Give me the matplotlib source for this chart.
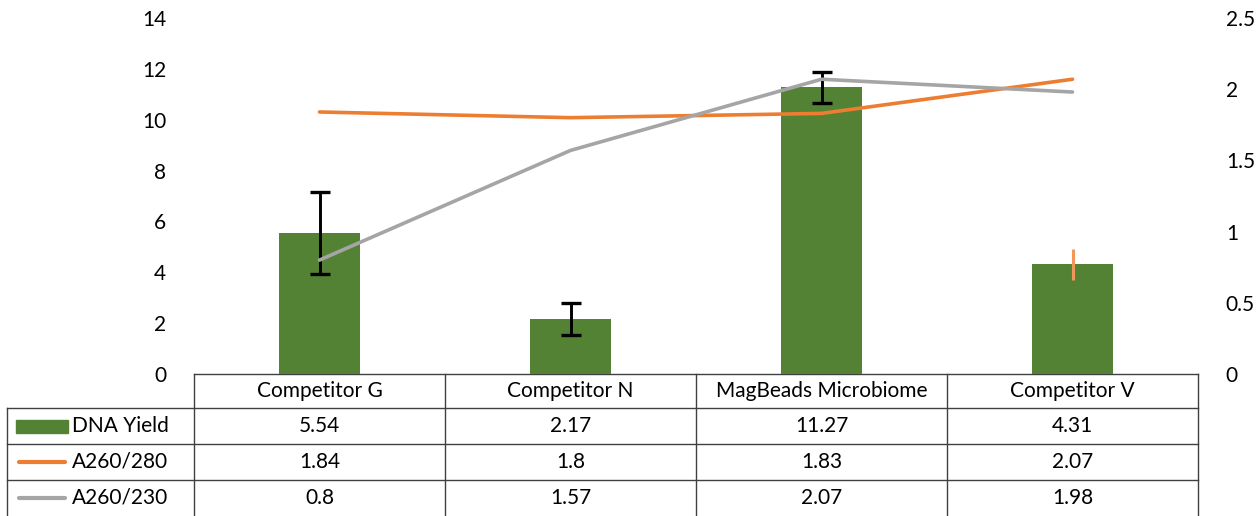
import matplotlib.pyplot as plt
from matplotlib.patches import Rectangle
from matplotlib.lines import Line2D

plt.rcParams["font.family"] = ["Lato", "DejaVu Sans"]

categories = ["Competitor G", "Competitor N", "MagBeads Microbiome", "Competitor V"]
dna_yield = [5.54, 2.17, 11.27, 4.31]
yield_err = [1.6, 0.63, 0.62, 0.62]
a260_280 = [1.84, 1.8, 1.83, 2.07]
a260_230 = [0.8, 1.57, 2.07, 1.98]
series_names = ["DNA Yield", "A260/280", "A260/230"]

GREEN = "#548235"
ORANGE = "#ED7D31"
GRAY = "#A5A5A5"
EDGE = "#404040"
W, H = 1260, 516

fig = plt.figure(figsize=(W / 100, H / 100), dpi=100)

# plot area in pixels: x 194..1198, y 18..374 (from top)
x0, x1, ytop, ybot = 194, 1198, 18, 374
ax = fig.add_axes([x0 / W, 1 - ybot / H, (x1 - x0) / W, (ybot - ytop) / H])
ax2 = ax.twinx()

xs = list(range(len(categories)))
ax.bar(xs, dna_yield, width=0.32, color=GREEN, zorder=2)
# first three error bars black with caps, the last one orange without caps
ax.errorbar(xs[:3], dna_yield[:3], yerr=yield_err[:3], fmt="none", ecolor="black",
            elinewidth=2.1, capsize=7.5, capthick=2.4, zorder=3)
ax.errorbar(xs[3:], dna_yield[3:], yerr=yield_err[3:], fmt="none", ecolor="#F0975A",
            elinewidth=2.2, capsize=0, zorder=3)

ax2.plot(xs, a260_280, color=ORANGE, lw=2.6, solid_capstyle="round")
ax2.plot(xs, a260_230, color=GRAY, lw=2.6, solid_capstyle="round")

ax.set_xlim(-0.5, len(categories) - 0.5)
ax.set_ylim(0, 14)
ax.set_yticks(range(0, 15, 2))
ax2.set_ylim(0, 2.5)
ax2.set_yticks([0, 0.5, 1, 1.5, 2, 2.5])
ax2.set_yticklabels(["0", "0.5", "1", "1.5", "2", "2.5"])
ax.set_xticks([])
for a in (ax, ax2):
    for s in a.spines.values():
        s.set_visible(False)
    a.tick_params(axis="y", length=0, labelsize=15, pad=20)
    a.set_facecolor("none")

# data table below the plot
leg_left = 7
col_w = (x1 - x0) / len(categories)
rows = [374, 408, 444, 480, 516]
tab = fig.add_axes([0, 0, 1, 1], zorder=-1)
tab.set_xlim(0, W)
tab.set_ylim(H, 0)
tab.axis("off")

lc = dict(color=EDGE, lw=1.0)
col_edges = [x0 + i * col_w for i in range(len(categories) + 1)]
tab.plot([x0, x1], [rows[0], rows[0]], **lc)
for r in rows[1:4]:
    tab.plot([leg_left, x1], [r, r], **lc)
for cx in col_edges:
    tab.plot([cx, cx], [rows[0], rows[-1]], **lc)
tab.plot([leg_left, leg_left], [rows[1], rows[-1]], **lc)

fs = 15
for i, name in enumerate(categories):
    cx = x0 + (i + 0.5) * col_w
    tab.text(cx, (rows[0] + rows[1]) / 2, name, ha="center", va="center", fontsize=fs)
    for j, vals in enumerate([dna_yield, a260_280, a260_230]):
        yc = (rows[j + 1] + rows[j + 2]) / 2
        tab.text(cx, yc, f"{vals[i]:g}", ha="center", va="center", fontsize=fs)

for j, name in enumerate(series_names):
    yc = (rows[j + 1] + rows[j + 2]) / 2
    if j == 0:
        tab.add_patch(Rectangle((16, yc - 6.5), 52, 13, color=GREEN))
    else:
        tab.add_line(Line2D([19, 65], [yc, yc], color=[ORANGE, GRAY][j - 1], lw=3,
                            solid_capstyle="round"))
    tab.text(72, yc, name, ha="left", va="center", fontsize=fs)

fig.savefig("out.png", dpi=100)
